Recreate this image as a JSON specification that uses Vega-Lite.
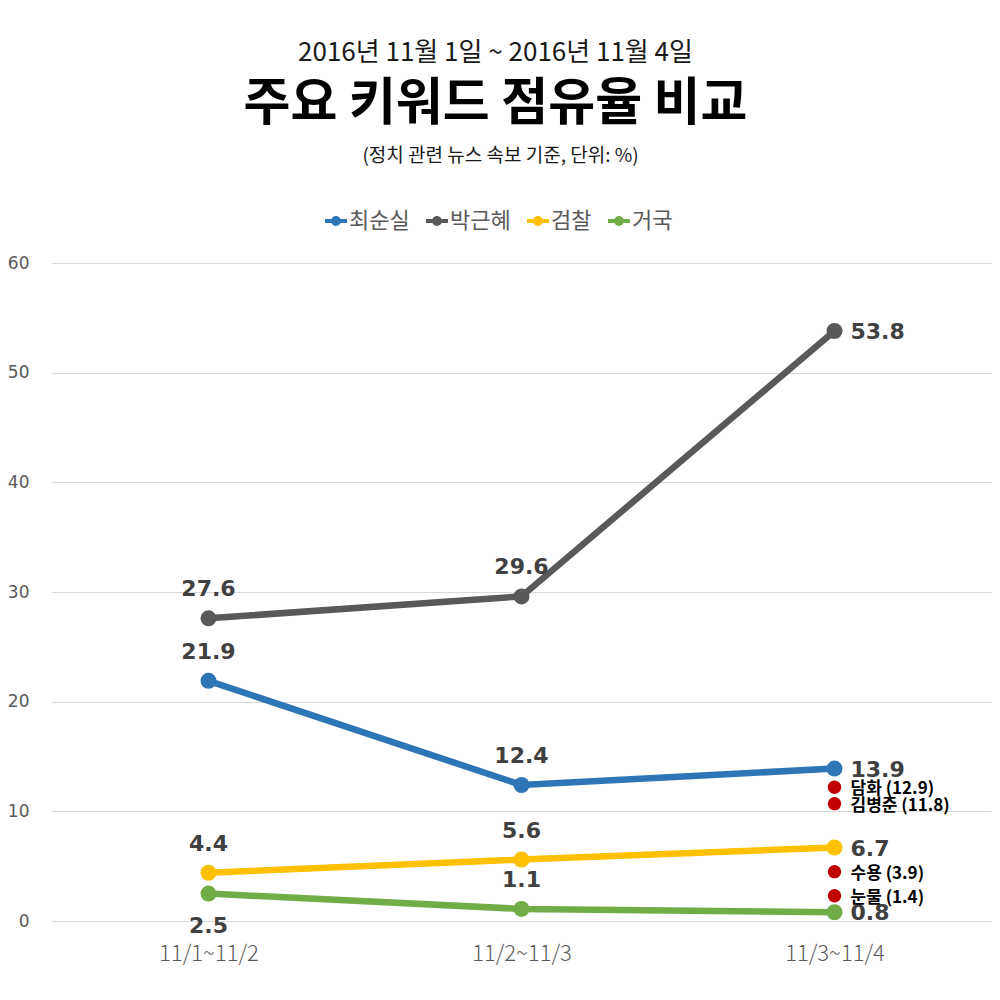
{
  "$schema": "https://vega.github.io/schema/vega-lite/v6.json",
  "width": 939,
  "height": 658,
  "autosize": {"type": "none"},
  "padding": {"left": 52, "top": 263, "right": 9, "bottom": 79},
  "background": "white",
  "title": {
    "text": "2016년 11월 1일 ~ 2016년 11월 4일",
    "subtitle": "주요 키워드 점유율 비교",
    "anchor": "middle",
    "frame": "group",
    "dx": -26,
    "font": "Noto Sans CJK KR",
    "fontSize": 26,
    "fontWeight": "normal",
    "color": "#1a1a1a",
    "subtitleFont": "Noto Sans CJK KR",
    "subtitleFontSize": 51,
    "subtitleFontWeight": "bold",
    "subtitleColor": "#000000",
    "subtitlePadding": 14,
    "offset": 16
  },
  "datasets": {
    "main": [
      {"series": "최순실", "period": "11/1~11/2", "value": 21.9},
      {"series": "최순실", "period": "11/2~11/3", "value": 12.4},
      {"series": "최순실", "period": "11/3~11/4", "value": 13.9},
      {"series": "박근혜", "period": "11/1~11/2", "value": 27.6},
      {"series": "박근혜", "period": "11/2~11/3", "value": 29.6},
      {"series": "박근혜", "period": "11/3~11/4", "value": 53.8},
      {"series": "검찰", "period": "11/1~11/2", "value": 4.4},
      {"series": "검찰", "period": "11/2~11/3", "value": 5.6},
      {"series": "검찰", "period": "11/3~11/4", "value": 6.7},
      {"series": "거국", "period": "11/1~11/2", "value": 2.5},
      {"series": "거국", "period": "11/2~11/3", "value": 1.1},
      {"series": "거국", "period": "11/3~11/4", "value": 0.8}
    ],
    "notes": [
      {"period": "11/3~11/4", "value": 12.2, "label": "담화 (12.9)"},
      {"period": "11/3~11/4", "value": 10.7, "label": "김병준 (11.8)"},
      {"period": "11/3~11/4", "value": 4.5, "label": "수용 (3.9)"},
      {"period": "11/3~11/4", "value": 2.3, "label": "눈물 (1.4)"}
    ]
  },
  "encoding": {
    "x": {
      "field": "period",
      "type": "ordinal",
      "sort": ["11/1~11/2", "11/2~11/3", "11/3~11/4"],
      "scale": {"type": "point", "padding": 0.5},
      "axis": {
        "title": null,
        "domain": false,
        "ticks": false,
        "grid": false,
        "labelAngle": 0,
        "labelPadding": 22,
        "labelFont": "Noto Sans CJK KR",
        "labelFontSize": 22,
        "labelFontWeight": 300,
        "labelColor": "#595959"
      }
    },
    "y": {
      "field": "value",
      "type": "quantitative",
      "scale": {"domain": [0, 60], "nice": false},
      "axis": {
        "values": [0, 10, 20, 30, 40, 50, 60],
        "grid": true,
        "gridColor": "#d9d9d9",
        "gridWidth": 1,
        "domain": false,
        "ticks": false,
        "labelPadding": 23,
        "labelFont": "DejaVu Sans",
        "labelFontSize": 17,
        "labelColor": "#595959",
        "title": "(정치 관련 뉴스 속보 기준, 단위: %)",
        "titleAngle": 0,
        "titleX": 448,
        "titleY": -102,
        "titleAlign": "center",
        "titleBaseline": "alphabetic",
        "titleFont": "Noto Sans CJK KR",
        "titleFontSize": 19,
        "titleFontWeight": "normal",
        "titleColor": "#1a1a1a"
      }
    }
  },
  "resolve": {"legend": {"color": "independent"}},
  "layer": [
    {
      "data": {"name": "main"},
      "mark": {"type": "line", "strokeWidth": 6.5},
      "encoding": {
        "color": {
          "field": "series",
          "type": "nominal",
          "scale": {"domain": ["최순실", "박근혜", "검찰", "거국"], "range": ["#2E75B6", "#595959", "#FFC000", "#70AD47"]},
          "legend": null
        }
      }
    },
    {
      "data": {"name": "main"},
      "mark": {"type": "circle", "size": 256, "opacity": 1},
      "encoding": {
        "color": {
          "field": "series",
          "type": "nominal",
          "scale": {"domain": ["최순실", "박근혜", "검찰", "거국"], "range": ["#2E75B6", "#595959", "#FFC000", "#70AD47"]},
          "legend": {
            "orient": "none",
            "legendX": 273,
            "legendY": -53,
            "direction": "horizontal",
            "title": null,
            "symbolType": "M-1,-0.18L1,-0.18L1,0.18L-1,0.18Z M0.45,0A0.45,0.45 0 1,1 -0.45,0A0.45,0.45 0 1,1 0.45,0Z",
            "symbolSize": 484,
            "symbolStrokeWidth": 0,
            "symbolOpacity": 1,
            "labelFont": "Noto Sans CJK KR",
            "labelFontSize": 22,
            "labelColor": "#595959",
            "labelOffset": 2,
            "columnPadding": 16
          }
        }
      }
    },
    {
      "data": {"name": "main"},
      "transform": [{"filter": "datum.period !== '11/3~11/4' && !(datum.series === '거국' && datum.period === '11/1~11/2')"}],
      "mark": {"type": "text", "dy": -29, "font": "DejaVu Sans", "fontWeight": "bold", "fontSize": 22, "color": "#404040"},
      "encoding": {"text": {"field": "value", "type": "quantitative", "format": ".1f"}}
    },
    {
      "data": {"name": "main"},
      "transform": [{"filter": "datum.series === '거국' && datum.period === '11/1~11/2'"}],
      "mark": {"type": "text", "dy": 32, "font": "DejaVu Sans", "fontWeight": "bold", "fontSize": 22, "color": "#404040"},
      "encoding": {"text": {"field": "value", "type": "quantitative", "format": ".1f"}}
    },
    {
      "data": {"name": "main"},
      "transform": [{"filter": "datum.period === '11/3~11/4'"}],
      "mark": {"type": "text", "align": "left", "dx": 16, "dy": 1, "font": "DejaVu Sans", "fontWeight": "bold", "fontSize": 22, "color": "#404040"},
      "encoding": {"text": {"field": "value", "type": "quantitative", "format": ".1f"}}
    },
    {
      "data": {"name": "notes"},
      "mark": {"type": "circle", "size": 180, "color": "#C00000", "opacity": 1},
      "encoding": {}
    },
    {
      "data": {"name": "notes"},
      "mark": {"type": "text", "align": "left", "dx": 16, "dy": 2, "font": "Noto Sans CJK KR", "fontWeight": "bold", "fontSize": 17, "color": "#000000"},
      "encoding": {"text": {"field": "label", "type": "nominal"}}
    }
  ],
  "config": {"view": {"stroke": null}}
}
